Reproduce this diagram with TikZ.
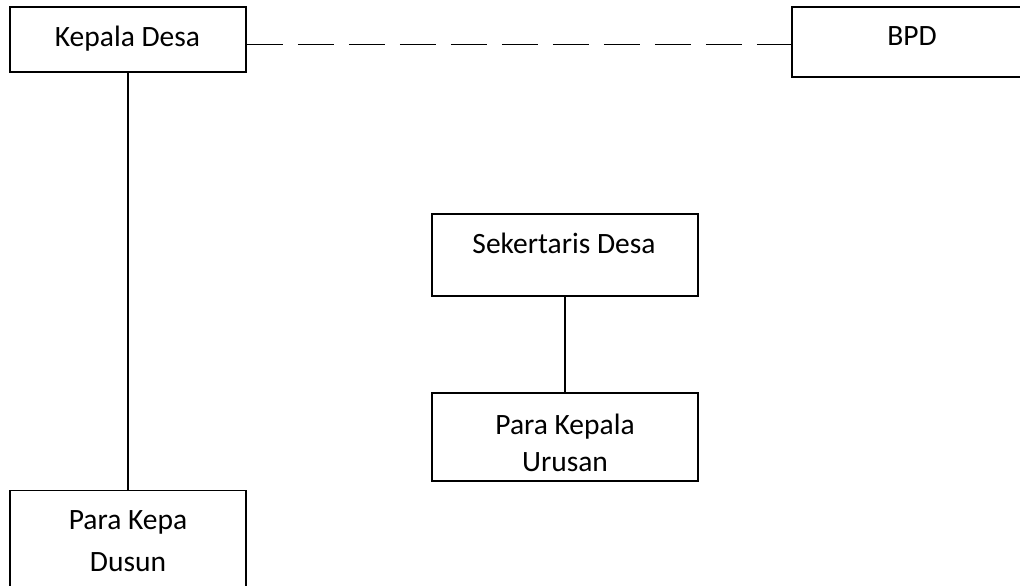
\documentclass[tikz,border=0pt]{standalone}
\usepackage{fontspec}
\setmainfont{Carlito}
\begin{document}
\begin{tikzpicture}[x=1pt,y=-1pt,
  orgbox/.style={draw=black,line width=1.6pt,inner sep=0pt},
  lbl/.style={inner sep=0pt,anchor=center,text height=19pt,text depth=0pt,
    font=\fontsize{29.5}{36}\selectfont},
  link/.style={draw=black,line width=1.6pt},
  dashlink/.style={draw=black,line width=1.6pt,dash pattern=on 36pt off 15pt}]
\useasboundingbox (0,0) rectangle (1020,586);
\node[orgbox,minimum width=236pt,minimum height=65pt] (kd) at (128,39.5) {};
\node[orgbox,minimum width=238pt,minimum height=70pt] (bpd) at (911,42) {};
\node[orgbox,minimum width=266pt,minimum height=82pt] (sd) at (565,255) {};
\node[orgbox,minimum width=266pt,minimum height=88pt] (pku) at (565,437) {};
\node[orgbox,minimum width=236pt,minimum height=109pt] (pkd) at (128,545) {};
\node[lbl] (kdt) at (127.5,37) {Kepala Desa};
\node[lbl] (bpdt) at (912,36) {BPD};
\node[lbl] (sdt) at (564,244) {Sekertaris Desa};
\node[lbl] (pkut1) at (565,425) {Para Kepala};
\node[lbl] (pkut2) at (565,462) {Urusan};
\node[lbl] (pkdt1) at (128,520) {Para Kepa};
\node[lbl] (pkdt2) at (128,562) {Dusun};
\draw[dashlink] ([yshift=-5pt]kd.east) -- ([yshift=-5pt]kd.east -| bpd.west);
\draw[link] (kd.south) -- (pkd.north);
\draw[link] (sd.south) -- (pku.north);
\end{tikzpicture}
\end{document}
